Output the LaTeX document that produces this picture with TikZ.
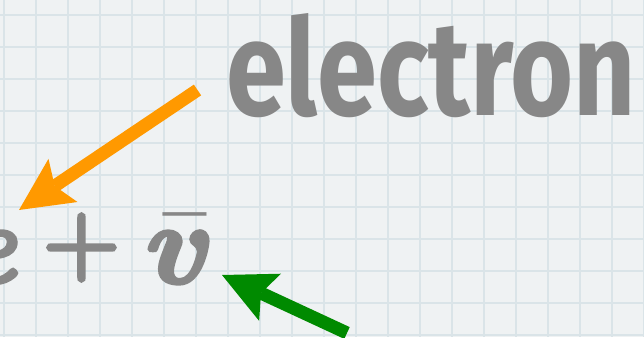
\documentclass[tikz,border=0pt]{standalone}
\usepackage{fontspec}
\usepackage{amsmath}
\usetikzlibrary{arrows.meta}
\newfontfamily\elfont{Fira Sans}
\newfontfamily\lmbi{lmroman10-bolditalic.otf}[FakeBold=3]
\newfontfamily\lmb{lmroman10-bold.otf}[FakeBold=3.5]
\definecolor{paper}{HTML}{EFF2F3}
\definecolor{gridc}{HTML}{DAE4E8}
\definecolor{inkgray}{HTML}{878787}
\definecolor{arrorange}{HTML}{FF9900}
\definecolor{arrgreen}{HTML}{008A00}
\tikzset{
  word/.style={inner sep=0pt, outer sep=0pt, text=inkgray},
  fatarrow/.style={line width=13pt, line cap=butt,
    -{Stealth[length=53pt, width=52pt, inset=10pt, line width=0pt]}},
}
\begin{document}
\begin{tikzpicture}[x=1pt,y=-1pt]
\useasboundingbox (0,0) rectangle (644,337);
\clip (0,0) rectangle (644,337);
\fill[paper] (0,0) rectangle (644,337);
\foreach \i in {0,...,20} \draw[gridc, line width=1.5pt] ({4+32*\i},0) -- ({4+32*\i},337);
\foreach \j in {0,...,10} \draw[gridc, line width=1.5pt] (0,{15+32*\j}) -- (644,{15+32*\j});
% texts
\node[word, anchor=base west] (electron) at (226,115)
  {\resizebox{410pt}{102pt}{\elfont\bfseries electron}};
\node[word, anchor=base east] (e) at (16,283) {\scalebox{11.5}{\lmbi e}};
\node[word] (plus) at (81.5,247.5) {\scalebox{8.8}{\lmb +}};
\node[word, anchor=base west] (nubar) at (140,283)
  {\scalebox{12.2}[11.5]{$\bar{\text{\lmbi v}\kern2pt}$}};
% arrows
\coordinate (oTail) at (197.5,90);
\coordinate (oTip) at (19,210);
\coordinate (gTail) at (347,333);
\coordinate (gTip) at (222,275);
\draw[fatarrow, arrorange] (oTail) -- (oTip);
\draw[fatarrow, arrgreen] (gTail) -- (gTip);
\end{tikzpicture}
\end{document}
